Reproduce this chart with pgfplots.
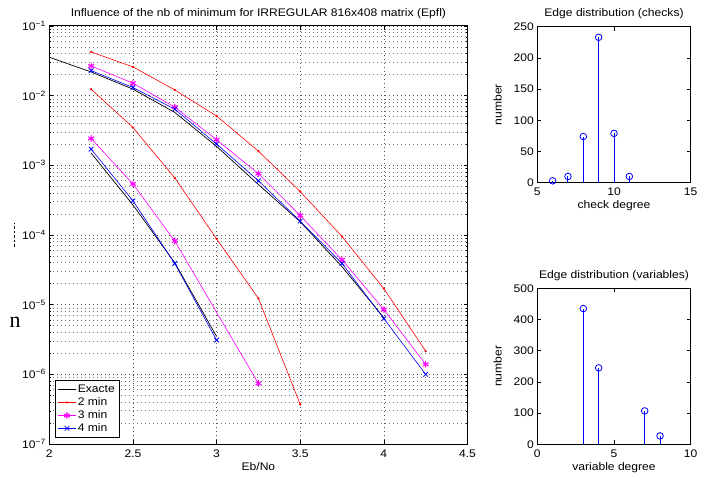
\documentclass[border=0pt]{standalone}
\usepackage{fontspec}
\setmainfont{Liberation Sans}[FakeStretch=1.1]
\newfontfamily\serifn{Liberation Serif}
\usepackage{pgfplots}
\pgfplotsset{compat=1.18}
\definecolor{mred}{rgb}{1,0,0}
\definecolor{mmag}{rgb}{1,0,1}
\definecolor{mblue}{rgb}{0,0,1}
\begin{document}
\begin{tikzpicture}[x=1pt,y=1pt]
\useasboundingbox (0,0) rectangle (719,478);
\pgfplotsset{
  every axis/.append style={
    scale only axis,
    font=\fontsize{11}{12.5}\selectfont,
    axis line style={line width=1pt},
    tick align=inside,
    tick style={black, line width=0.5pt},
    major tick length=4pt,
    minor tick length=2pt,
    /pgf/number format/assume math mode=true,
    title style={yshift=-2pt},
    xticklabel style={yshift=-2pt},
  }
}
% main axis
\begin{axis}[
  at={(49.3pt,34pt)}, anchor=south west,
  width=418.2pt, height=418pt,
  ymode=log,
  xmin=2, xmax=4.5, ymin=1e-7, ymax=1e-1,
  xtick={2,2.5,3,3.5,4,4.5},
  xticklabels={2,2.5,3,3.5,4,4.5},
  ytick={1e-7,1e-6,1e-5,1e-4,1e-3,1e-2,1e-1},
  yticklabels={10\textsuperscript{−7},10\textsuperscript{−6},10\textsuperscript{−5},10\textsuperscript{−4},10\textsuperscript{−3},10\textsuperscript{−2},10\textsuperscript{−1}},
  xmajorgrids, ymajorgrids, yminorgrids,
  major grid style={black!70, line width=0.6pt, dash pattern=on 0.8pt off 3.2pt},
  minor grid style={black!55, line width=0.6pt, dash pattern=on 0.8pt off 3.2pt},
  title={Influence of the nb of minimum for IRREGULAR 816x408 matrix (Epfl)},
  xlabel={Eb/No},
  xlabel style={yshift=2pt},
  legend style={at={(0.014,0.014)}, anchor=south west, draw=black, line width=1pt,
    font=\fontsize{11}{12.5}\selectfont, row sep=-0.5pt, inner sep=2.5pt},
  legend cell align=left,
  legend image post style={line width=0.6pt},
]
\addplot[black, line width=0.7pt] coordinates {(2,0.0356) (2.25,0.0219) (2.5,0.0124) (2.75,0.00575) (3,0.00187) (3.25,5.3e-4) (3.5,1.55e-4) (3.75,3.5e-5) (4,6.5e-6)};
\addlegendentry{Exacte}
\addplot[mred, line width=0.6pt, mark=*, mark size=0.8pt] coordinates {(2.25,0.0424) (2.5,0.0259) (2.75,0.0121) (3,0.0051) (3.25,0.0016) (3.5,4.2e-4) (3.75,9.5e-5) (4,1.7e-5) (4.25,2.15e-6)};
\addlegendentry{2 min}
\addplot[mmag, line width=0.6pt, mark=asterisk, mark size=3.3pt, mark options={line width=1.1pt}] coordinates {(2.25,0.0267) (2.5,0.0151) (2.75,0.00684) (3,0.00233) (3.25,7.6e-4) (3.5,1.9e-4) (3.75,4.4e-5) (4,8.5e-6) (4.25,1.39e-6)};
\addlegendentry{3 min}
\addplot[mblue, line width=0.6pt, mark=x, mark size=3.2pt, mark options={line width=0.8pt}] coordinates {(2.25,0.0229) (2.5,0.0131) (2.75,0.0064) (3,0.00202) (3.25,6.0e-4) (3.5,1.58e-4) (3.75,3.9e-5) (4,6.3e-6) (4.25,1.0e-6)};
\addlegendentry{4 min}
% lower group
\addplot[black, line width=0.7pt, forget plot] coordinates {(2.25,0.0015) (2.5,2.7e-4) (2.75,4.0e-5) (3,3.5e-6)};
\addplot[mred, line width=0.6pt, mark=*, mark size=0.8pt, forget plot] coordinates {(2.25,0.0124) (2.5,0.00349) (2.75,6.6e-4) (3,8.8e-5) (3.25,1.23e-5) (3.5,3.7e-7)};
\addplot[mmag, line width=0.6pt, mark=asterisk, mark size=3.3pt, mark options={line width=1.1pt}, forget plot] coordinates {(2.25,0.00243) (2.5,5.4e-4) (2.75,8.2e-5) (3.25,7.4e-7)};
\addplot[mblue, line width=0.6pt, mark=x, mark size=3.2pt, mark options={line width=0.8pt}, forget plot] coordinates {(2.25,0.00171) (2.5,3.1e-4) (2.75,3.9e-5) (3,3.1e-6)};
\end{axis}
% checks
\begin{axis}[
  at={(537.3pt,295.3pt)}, anchor=south west,
  width=153.4pt, height=156pt,
  xmin=5, xmax=15, ymin=0, ymax=250,
  xtick={5,10,15}, ytick={0,50,100,150,200,250},
  title={Edge distribution (checks)},
  xlabel={check degree}, ylabel={number},
  xlabel style={yshift=2pt}, ylabel style={yshift=5pt},
  clip=false,
]
\addplot[ycomb, color=mblue, draw=mblue, line width=1pt, mark=o, mark size=3.3pt, mark options={draw=mblue, line width=0.8pt}] coordinates {(6,3) (7,10) (8,74) (9,233) (10,79) (11,10)};
\end{axis}
% variables
\begin{axis}[
  at={(537.3pt,33.7pt)}, anchor=south west,
  width=153.4pt, height=156pt,
  xmin=0, xmax=10, ymin=0, ymax=500,
  xtick={0,5,10}, ytick={0,100,200,300,400,500},
  title={Edge distribution (variables)},
  xlabel={variable degree}, ylabel={number},
  xlabel style={yshift=2pt}, ylabel style={yshift=5pt},
  clip=false,
]
\addplot[ycomb, color=mblue, draw=mblue, line width=1pt, mark=o, mark size=3.3pt, mark options={draw=mblue, line width=0.8pt}] coordinates {(3,435) (4,245) (7,107) (8,27)};
\end{axis}
% stray marks at left
\node[font=\serifn\fontsize{22}{22}\selectfont, inner sep=0pt] at (15,156) {n};
\draw[line width=0.6pt, dash pattern=on 2.5pt off 2pt] (14,231) -- (14,255);
\end{tikzpicture}
\end{document}
